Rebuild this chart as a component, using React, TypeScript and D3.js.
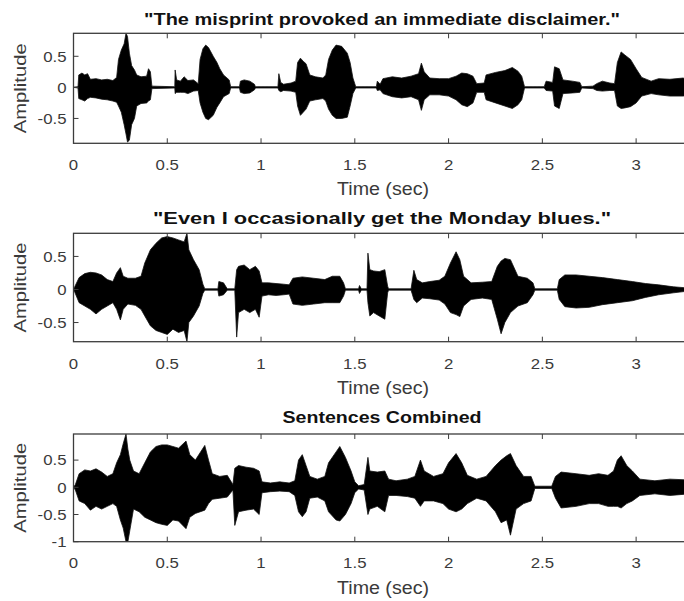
import React from "react";
import * as d3 from "d3";

// ---------- data ----------
const TITLES = [
  '"The misprint provoked an immediate disclaimer."',
  '"Even I occasionally get the Monday blues."',
  "Sentences Combined",
];
const X_LABEL = "Time (sec)";
const Y_LABEL = "Amplitude";
const X_TICKS = [0, 0.5, 1, 1.5, 2, 2.5, 3];
const X_TICK_LABELS = ["0", "0.5", "1", "1.5", "2", "2.5", "3"];
const Y_TICKS_12 = [-0.5, 0, 0.5];
const Y_TICK_LABELS_12 = ["-0.5", "0", "0.5"];
const Y_TICKS_3 = [-1, -0.5, 0, 0.5];
const Y_TICK_LABELS_3 = ["-1", "-0.5", "0", "0.5"];
const DURATION = 3.29;

// envelope of sentence 1: time (s), upper, lower
const time1 = [0, 0.024, 0.028, 0.045, 0.06, 0.075, 0.09, 0.12, 0.15, 0.18, 0.21, 0.23, 0.24, 0.255, 0.27, 0.28, 0.288, 0.298, 0.31, 0.325, 0.337, 0.36, 0.39, 0.4, 0.41, 0.418, 0.54, 0.542, 0.55, 0.57, 0.59, 0.61, 0.64, 0.665, 0.675, 0.69, 0.705, 0.72, 0.745, 0.765, 0.78, 0.8, 0.83, 0.838, 0.885, 0.89, 0.91, 0.94, 0.965, 0.97, 1.09, 1.095, 1.105, 1.12, 1.16, 1.185, 1.195, 1.21, 1.225, 1.24, 1.26, 1.29, 1.33, 1.345, 1.36, 1.38, 1.4, 1.43, 1.46, 1.475, 1.49, 1.505, 1.615, 1.62, 1.635, 1.65, 1.7, 1.75, 1.8, 1.84, 1.855, 1.87, 1.9, 1.95, 2.0, 2.04, 2.07, 2.1, 2.13, 2.15, 2.19, 2.2, 2.25, 2.3, 2.34, 2.37, 2.39, 2.405, 2.51, 2.52, 2.555, 2.565, 2.59, 2.61, 2.66, 2.7, 2.71, 2.77, 2.79, 2.82, 2.86, 2.885, 2.9, 2.92, 2.94, 2.97, 3.0, 3.03, 3.08, 3.12, 3.18, 3.25, 3.29];
const upper1 = [0, 0.01, 0.2, 0.23, 0.2, 0.22, 0.13, 0.14, 0.12, 0.13, 0.11, 0.16, 0.45, 0.6, 0.7, 0.87, 0.82, 0.55, 0.35, 0.28, 0.2, 0.17, 0.18, 0.3, 0.25, 0.02, 0.01, 0.28, 0.12, 0.1, 0.17, 0.11, 0.12, 0.06, 0.45, 0.62, 0.68, 0.64, 0.5, 0.4, 0.3, 0.2, 0.12, 0.01, 0.01, 0.1, 0.12, 0.1, 0.05, 0.01, 0.01, 0.22, 0.08, 0.05, 0.07, 0.1, 0.4, 0.47, 0.42, 0.38, 0.2, 0.17, 0.15, 0.2, 0.45, 0.6, 0.68, 0.66, 0.55, 0.4, 0.15, 0.01, 0.01, 0.1, 0.05, 0.14, 0.17, 0.15, 0.18, 0.22, 0.39, 0.25, 0.15, 0.14, 0.14, 0.18, 0.23, 0.22, 0.18, 0.06, 0.07, 0.2, 0.24, 0.27, 0.32, 0.26, 0.18, 0.01, 0.01, 0.1, 0.08, 0.33, 0.3, 0.12, 0.1, 0.08, 0.01, 0.02, 0.06, 0.1, 0.07, 0.06, 0.4, 0.57, 0.52, 0.45, 0.3, 0.16, 0.1, 0.14, 0.13, 0.15, 0.12];
const lower1 = [0, -0.01, -0.18, -0.2, -0.22, -0.18, -0.16, -0.17, -0.19, -0.2, -0.22, -0.24, -0.3, -0.4, -0.6, -0.75, -0.88, -0.85, -0.6, -0.5, -0.3, -0.26, -0.25, -0.22, -0.2, -0.02, -0.01, -0.1, -0.08, -0.08, -0.08, -0.1, -0.06, -0.05, -0.25, -0.4, -0.5, -0.52, -0.45, -0.32, -0.25, -0.15, -0.1, -0.01, -0.01, -0.08, -0.1, -0.09, -0.04, -0.01, -0.01, -0.05, -0.07, -0.05, -0.06, -0.08, -0.3, -0.45, -0.4, -0.35, -0.22, -0.2, -0.18, -0.22, -0.35, -0.45, -0.5, -0.5, -0.48, -0.3, -0.1, -0.01, -0.01, -0.05, -0.04, -0.1, -0.15, -0.17, -0.15, -0.2, -0.37, -0.2, -0.12, -0.12, -0.14, -0.2, -0.28, -0.31, -0.25, -0.08, -0.08, -0.2, -0.25, -0.3, -0.34, -0.28, -0.2, -0.01, -0.01, -0.05, -0.06, -0.3, -0.34, -0.1, -0.09, -0.08, -0.01, -0.02, -0.05, -0.06, -0.05, -0.05, -0.3, -0.34, -0.33, -0.31, -0.25, -0.14, -0.1, -0.12, -0.14, -0.14, -0.12];

// envelope of sentence 2
const time2 = [0, 0.008, 0.03, 0.06, 0.09, 0.12, 0.15, 0.18, 0.21, 0.23, 0.25, 0.265, 0.29, 0.33, 0.36, 0.38, 0.41, 0.44, 0.47, 0.5, 0.53, 0.56, 0.59, 0.605, 0.615, 0.64, 0.67, 0.69, 0.7, 0.77, 0.775, 0.8, 0.82, 0.86, 0.87, 0.88, 0.91, 0.94, 0.97, 0.99, 1.005, 1.04, 1.08, 1.12, 1.15, 1.17, 1.22, 1.28, 1.34, 1.38, 1.42, 1.44, 1.45, 1.52, 1.525, 1.535, 1.565, 1.57, 1.58, 1.6, 1.63, 1.66, 1.675, 1.68, 1.8, 1.815, 1.83, 1.86, 1.9, 1.95, 1.98, 2.01, 2.04, 2.06, 2.08, 2.12, 2.18, 2.23, 2.26, 2.28, 2.3, 2.33, 2.37, 2.42, 2.45, 2.46, 2.58, 2.59, 2.62, 2.68, 2.75, 2.82, 2.9, 2.98, 3.05, 3.12, 3.2, 3.29];
const upper2 = [0, 0.05, 0.18, 0.24, 0.26, 0.25, 0.22, 0.15, 0.12, 0.25, 0.33, 0.2, 0.17, 0.17, 0.2, 0.4, 0.6, 0.7, 0.78, 0.8, 0.78, 0.75, 0.72, 0.85, 0.6, 0.45, 0.3, 0.08, 0.01, 0.01, 0.12, 0.1, 0.01, 0.01, 0.3, 0.35, 0.37, 0.3, 0.35, 0.28, 0.1, 0.1, 0.09, 0.08, 0.07, 0.17, 0.19, 0.17, 0.15, 0.2, 0.2, 0.1, 0.01, 0.01, 0.06, 0.01, 0.01, 0.55, 0.3, 0.28, 0.27, 0.3, 0.05, 0.01, 0.01, 0.29, 0.15, 0.1, 0.12, 0.14, 0.2, 0.4, 0.57, 0.45, 0.2, 0.1, 0.11, 0.12, 0.35, 0.43, 0.47, 0.45, 0.2, 0.17, 0.1, 0.01, 0.01, 0.15, 0.22, 0.22, 0.2, 0.18, 0.15, 0.12, 0.09, 0.07, 0.04, 0.02];
const lower2 = [0, -0.05, -0.2, -0.25, -0.3, -0.37, -0.3, -0.25, -0.2, -0.3, -0.46, -0.3, -0.22, -0.24, -0.3, -0.4, -0.55, -0.62, -0.65, -0.68, -0.6, -0.65, -0.62, -0.79, -0.5, -0.4, -0.25, -0.06, -0.01, -0.01, -0.1, -0.08, -0.01, -0.01, -0.72, -0.35, -0.3, -0.35, -0.3, -0.42, -0.1, -0.08, -0.09, -0.08, -0.07, -0.22, -0.24, -0.22, -0.2, -0.2, -0.2, -0.1, -0.01, -0.01, -0.06, -0.01, -0.01, -0.2, -0.4, -0.35, -0.4, -0.45, -0.05, -0.01, -0.01, -0.15, -0.2, -0.13, -0.14, -0.16, -0.22, -0.35, -0.38, -0.41, -0.25, -0.15, -0.13, -0.15, -0.45, -0.67, -0.5, -0.35, -0.25, -0.2, -0.08, -0.01, -0.01, -0.15, -0.26, -0.28, -0.27, -0.23, -0.2, -0.17, -0.12, -0.08, -0.05, -0.02];

// envelope of the combined sentences
const time3 = [0, 0.01, 0.03, 0.06, 0.09, 0.12, 0.15, 0.18, 0.21, 0.23, 0.25, 0.265, 0.28, 0.29, 0.3, 0.32, 0.35, 0.38, 0.41, 0.44, 0.47, 0.5, 0.53, 0.56, 0.6, 0.62, 0.65, 0.7, 0.72, 0.74, 0.78, 0.82, 0.85, 0.86, 0.88, 0.92, 0.96, 0.99, 1.005, 1.05, 1.1, 1.15, 1.18, 1.2, 1.22, 1.24, 1.26, 1.3, 1.34, 1.36, 1.4, 1.42, 1.45, 1.48, 1.5, 1.52, 1.55, 1.57, 1.58, 1.62, 1.66, 1.68, 1.72, 1.78, 1.82, 1.85, 1.87, 1.92, 1.97, 2.0, 2.04, 2.07, 2.1, 2.15, 2.2, 2.25, 2.28, 2.31, 2.33, 2.36, 2.4, 2.44, 2.46, 2.55, 2.57, 2.6, 2.68, 2.75, 2.8, 2.85, 2.88, 2.9, 2.92, 2.95, 2.98, 3.02, 3.1, 3.18, 3.25, 3.29];
const upper3 = [0, 0.05, 0.25, 0.32, 0.3, 0.34, 0.28, 0.2, 0.25, 0.45, 0.6, 0.8, 0.98, 0.7, 0.5, 0.3, 0.25, 0.45, 0.65, 0.75, 0.78, 0.78, 0.75, 0.72, 0.85, 0.6, 0.5, 0.77, 0.5, 0.25, 0.2, 0.22, 0.05, 0.35, 0.4, 0.37, 0.35, 0.3, 0.1, 0.08, 0.1, 0.08, 0.12, 0.5, 0.6, 0.4, 0.2, 0.15, 0.2, 0.45, 0.65, 0.75, 0.55, 0.3, 0.1, 0.03, 0.05, 0.55, 0.3, 0.28, 0.3, 0.15, 0.12, 0.15, 0.2, 0.5, 0.3, 0.2, 0.25, 0.45, 0.62, 0.45, 0.22, 0.15, 0.2, 0.4, 0.5, 0.58, 0.62, 0.4, 0.2, 0.2, 0.02, 0.02, 0.2, 0.28, 0.25, 0.22, 0.25, 0.22, 0.3, 0.5, 0.58, 0.4, 0.3, 0.15, 0.12, 0.15, 0.14, 0.12];
const lower3 = [0, -0.05, -0.25, -0.3, -0.42, -0.35, -0.4, -0.35, -0.3, -0.35, -0.6, -0.75, -1.0, -1.0, -0.8, -0.4, -0.45, -0.55, -0.6, -0.65, -0.68, -0.7, -0.6, -0.62, -0.76, -0.55, -0.48, -0.42, -0.3, -0.22, -0.2, -0.18, -0.05, -0.7, -0.45, -0.42, -0.4, -0.5, -0.1, -0.08, -0.07, -0.08, -0.15, -0.45, -0.54, -0.45, -0.2, -0.18, -0.25, -0.45, -0.6, -0.62, -0.5, -0.3, -0.1, -0.03, -0.05, -0.5, -0.4, -0.35, -0.45, -0.15, -0.15, -0.17, -0.2, -0.35, -0.25, -0.25, -0.3, -0.4, -0.45, -0.4, -0.3, -0.2, -0.25, -0.45, -0.65, -0.6, -0.88, -0.4, -0.3, -0.25, -0.02, -0.02, -0.2, -0.38, -0.35, -0.3, -0.3, -0.35, -0.35, -0.35, -0.38, -0.3, -0.25, -0.15, -0.12, -0.15, -0.13, -0.12];

// ---------- layout ----------
const W = 684;
const H = 601;
const LEFT = 73.5;
const PLOT_W = 617;
const FONT = "'Liberation Sans', Arial, Helvetica, sans-serif";
const TEXT_COLOR = "#3a3a3a";
const AXIS_COLOR = "#3c3c3c";

const panels = [
  { top: 33.3, bottom: 143.3, yDomain: [-0.9, 0.87], titleY: 24.5, tickY: 170, labelY: 195, ticks: Y_TICKS_12, tickLabels: Y_TICK_LABELS_12, titleLen: 476, t: time1, hi: upper1, lo: lower1 },
  { top: 233.3, bottom: 341.7, yDomain: [-0.79, 0.85], titleY: 223.5, tickY: 368.5, labelY: 394, ticks: Y_TICKS_12, tickLabels: Y_TICK_LABELS_12, titleLen: 458, t: time2, hi: upper2, lo: lower2 },
  { top: 434, bottom: 541.7, yDomain: [-1, 0.98], titleY: 423.3, tickY: 567.5, labelY: 593.5, ticks: Y_TICKS_3, tickLabels: Y_TICK_LABELS_3, titleLen: 199, t: time3, hi: upper3, lo: lower3 },
];

const charW: Record<string, number> = { "0": 0.556, "1": 0.556, "2": 0.556, "3": 0.556, "5": 0.556, ".": 0.278, "-": 0.333 };
const tickLen = (s: string, size: number) =>
  s.split("").reduce((a, c) => a + (charW[c] ?? 0.556), 0) * size * 1.12;

function Panel({ p, idx }: { p: (typeof panels)[number]; idx: number }) {
  const x = d3.scaleLinear().domain([0, DURATION]).range([LEFT, LEFT + PLOT_W]);
  const y = d3.scaleLinear().domain(p.yDomain).range([p.bottom, p.top]);
  const pts = p.t.map((t, i) => ({ t, hi: p.hi[i], lo: p.lo[i] }));
  const area = d3
    .area<{ t: number; hi: number; lo: number }>()
    .x((d) => x(d.t))
    .y0((d) => y(d.lo))
    .y1((d) => y(d.hi));
  const clipId = `clip${idx}`;
  const TICK = 5;
  const tickSize = 15;
  return (
    <g>
      <defs>
        <clipPath id={clipId}>
          <rect x={LEFT} y={p.top} width={PLOT_W} height={p.bottom - p.top} />
        </clipPath>
      </defs>
      <g clipPath={`url(#${clipId})`}>
        <line x1={x(0)} x2={x(DURATION)} y1={y(0)} y2={y(0)} stroke="#555" strokeWidth={1} strokeDasharray="3,1" />
        <path d={area(pts) || ""} fill="#000" stroke="#111" strokeWidth={0.8} strokeLinejoin="miter" />
      </g>
      {/* box */}
      <rect x={LEFT} y={p.top} width={PLOT_W} height={p.bottom - p.top} fill="none" stroke={AXIS_COLOR} strokeWidth={1.3} />
      {/* x ticks */}
      {X_TICKS.map((v, i) => (
        <g key={"xt" + i}>
          <line x1={x(v)} x2={x(v)} y1={p.bottom} y2={p.bottom - TICK} stroke={AXIS_COLOR} strokeWidth={1} />
          <line x1={x(v)} x2={x(v)} y1={p.top} y2={p.top + TICK} stroke={AXIS_COLOR} strokeWidth={1} />
          <text
            x={x(v)}
            y={p.tickY}
            textAnchor="middle"
            fontSize={tickSize}
            fontFamily={FONT}
            fill={TEXT_COLOR}
            textLength={tickLen(X_TICK_LABELS[i], tickSize)}
            lengthAdjust="spacingAndGlyphs"
          >
            {X_TICK_LABELS[i]}
          </text>
        </g>
      ))}
      {/* y ticks */}
      {p.ticks.map((v, i) => (
        <g key={"yt" + i}>
          <line x1={LEFT} x2={LEFT + TICK} y1={y(v)} y2={y(v)} stroke={AXIS_COLOR} strokeWidth={1} />
          <text
            x={LEFT - 7}
            y={y(v) + 5.3}
            textAnchor="end"
            fontSize={tickSize}
            fontFamily={FONT}
            fill={TEXT_COLOR}
            textLength={tickLen(p.tickLabels[i], tickSize)}
            lengthAdjust="spacingAndGlyphs"
          >
            {p.tickLabels[i]}
          </text>
        </g>
      ))}
      {/* title */}
      <text
        x={382}
        y={p.titleY}
        textAnchor="middle"
        fontSize={17}
        fontWeight="bold"
        fontFamily={FONT}
        fill="#111"
        textLength={p.titleLen}
        lengthAdjust="spacingAndGlyphs"
      >
        {TITLES[idx]}
      </text>
      {/* x label */}
      <text
        x={383}
        y={p.labelY}
        textAnchor="middle"
        fontSize={18}
        fontFamily={FONT}
        fill={TEXT_COLOR}
        textLength={92}
        lengthAdjust="spacingAndGlyphs"
      >
        {X_LABEL}
      </text>
      {/* y label */}
      <text
        transform={`translate(26,${(p.top + p.bottom) / 2}) rotate(-90)`}
        textAnchor="middle"
        fontSize={16}
        fontFamily={FONT}
        fill={TEXT_COLOR}
        textLength={90}
        lengthAdjust="spacingAndGlyphs"
      >
        {Y_LABEL}
      </text>
    </g>
  );
}

export default function App() {
  return (
    <svg
      width={W}
      height={H}
      viewBox={`0 0 ${W} ${H}`}
      style={{ position: "absolute", left: 0, top: 0, background: "#fff" }}
    >
      <rect x={0} y={0} width={W} height={H} fill="#fff" />
      {panels.map((p, i) => (
        <Panel key={i} p={p} idx={i} />
      ))}
    </svg>
  );
}
